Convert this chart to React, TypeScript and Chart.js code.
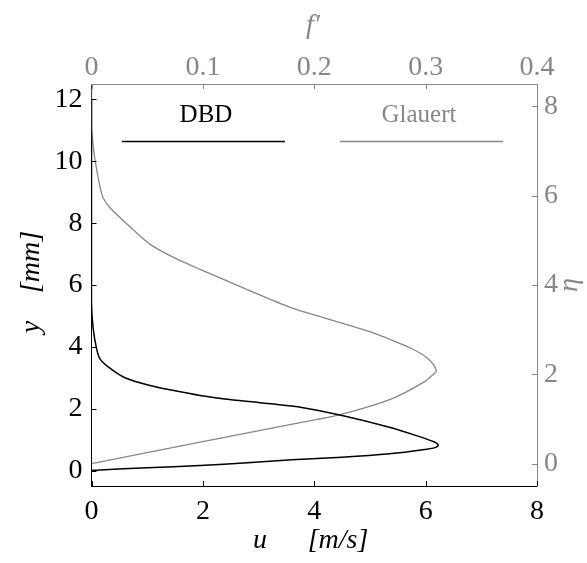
import React, { useEffect, useRef } from "react";
import { Chart, registerables } from "chart.js";

Chart.register(...registerables);

// ---- data ----
const U_TICKS = [0, 2, 4, 6, 8];
const Y_TICKS = [0, 2, 4, 6, 8, 10, 12];
const F_TICKS = [0, 0.1, 0.2, 0.3, 0.4];
const ETA_TICKS = [0, 2, 4, 6, 8];

// DBD measured profile: u [m/s] vs y [mm]
const DBD_U = [0, 0.15, 1.0, 1.95, 2.8, 3.6, 4.5, 5.35, 5.95, 6.18, 6.23, 6.15, 5.85, 5.35, 4.5, 3.75, 3.0, 2.55, 1.95, 1.5, 1.05, 0.6, 0.3, 0.15, 0.09, 0.03, 0, 0, 0];
const DBD_Y = [0, 0.02, 0.09, 0.16, 0.25, 0.35, 0.43, 0.54, 0.67, 0.75, 0.82, 0.93, 1.12, 1.4, 1.78, 2.05, 2.2, 2.28, 2.43, 2.58, 2.75, 3.0, 3.35, 3.62, 3.95, 4.6, 5.4, 8, 12];

// Glauert wall jet similarity profile: f' vs eta
const GLAUERT_F = [0, 0.0975, 0.1874, 0.2234, 0.2683, 0.298, 0.3088, 0.3097, 0.307, 0.2997, 0.2863, 0.2683, 0.253, 0.2324, 0.2081, 0.1784, 0.1425, 0.0975, 0.0751, 0.0526, 0.0373, 0.0166, 0.0103, 0.0076, 0.0031, 0.0009, 0, 0];
const GLAUERT_ETA = [0, 0.48, 0.92, 1.1, 1.44, 1.82, 2.04, 2.07, 2.22, 2.4, 2.59, 2.78, 2.93, 3.09, 3.27, 3.5, 3.87, 4.35, 4.6, 4.91, 5.24, 5.73, 5.96, 6.2, 6.81, 7.26, 7.57, 8.5];

const SERIES_LABELS = ["DBD", "Glauert"];

const BLACK = "#000000";
const GRAY = "#878787";
const FONT = "'Liberation Serif', 'Times New Roman', serif";

const inwardTicks = {
  id: "inwardTicks",
  afterDraw(chart: any) {
    const { ctx, chartArea: a } = chart;
    const L = 5;
    ctx.save();
    ctx.lineWidth = 1;
    const sx = chart.scales.x, sx2 = chart.scales.x2, sy = chart.scales.y, sy2 = chart.scales.y2;
    ctx.strokeStyle = BLACK;
    ctx.beginPath();
    sx.ticks.forEach((t: any) => {
      const p = Math.round(sx.getPixelForValue(t.value)) + 0.5;
      ctx.moveTo(p, a.bottom);
      ctx.lineTo(p, a.bottom - L);
    });
    sy.ticks.forEach((t: any) => {
      const p = Math.round(sy.getPixelForValue(t.value)) + 0.5;
      ctx.moveTo(a.left, p);
      ctx.lineTo(a.left + L, p);
    });
    ctx.stroke();
    ctx.strokeStyle = GRAY;
    ctx.beginPath();
    sx2.ticks.forEach((t: any) => {
      const p = Math.round(sx2.getPixelForValue(t.value)) + 0.5;
      ctx.moveTo(p, a.top);
      ctx.lineTo(p, a.top + L);
    });
    sy2.ticks.forEach((t: any) => {
      const p = Math.round(sy2.getPixelForValue(t.value)) + 0.5;
      ctx.moveTo(a.right, p);
      ctx.lineTo(a.right - L, p);
    });
    ctx.stroke();

    // legend
    ctx.textAlign = "center";
    ctx.textBaseline = "alphabetic";
    ctx.font = `25px ${FONT}`;
    ctx.fillStyle = BLACK;
    ctx.fillText(SERIES_LABELS[0], 206, 122);
    ctx.fillStyle = GRAY;
    ctx.fillText(SERIES_LABELS[1], 419, 122);
    ctx.lineWidth = 1.5;
    ctx.strokeStyle = BLACK;
    ctx.beginPath();
    ctx.moveTo(122, 141.5);
    ctx.lineTo(285, 141.5);
    ctx.stroke();
    ctx.lineWidth = 1.3;
    ctx.strokeStyle = GRAY;
    ctx.beginPath();
    ctx.moveTo(340, 141.5);
    ctx.lineTo(503, 141.5);
    ctx.stroke();

    // axis titles
    ctx.font = `italic 28px ${FONT}`;
    ctx.fillStyle = BLACK;
    ctx.textAlign = "center";
    ctx.fillText("u", 260, 548);
    ctx.fillText("[m/s]", 338, 548);

    ctx.fillStyle = GRAY;
    ctx.fillText("f\u2032", 313, 33);

    ctx.save();
    ctx.translate(39, 0);
    ctx.rotate(-Math.PI / 2);
    ctx.fillStyle = BLACK;
    ctx.fillText("y", -327, 0);
    ctx.fillText("[mm]", -262, 0);
    ctx.restore();

    ctx.save();
    ctx.translate(577, 285);
    ctx.rotate(-Math.PI / 2);
    ctx.fillStyle = GRAY;
    ctx.fillText("\u03b7", 0, 0);
    ctx.restore();

    ctx.restore();
  },
};

export default function App() {
  const ref = useRef<HTMLCanvasElement | null>(null);
  useEffect(() => {
    if (!ref.current) return;
    const tickFont = { family: FONT, size: 28 };
    const setTicks = (vals: number[]) => (s: any) => {
      s.ticks = vals.map((v) => ({ value: v }));
    };
    const chart = new Chart(ref.current, {
      type: "scatter",
      data: {
        datasets: [
          {
            label: SERIES_LABELS[0],
            data: DBD_U.map((u, i) => ({ x: u, y: DBD_Y[i] })),
            showLine: true,
            borderColor: BLACK,
            borderWidth: 1.5,
            pointRadius: 0,
            xAxisID: "x",
            yAxisID: "y",
            tension: 0.25,
          },
          {
            label: SERIES_LABELS[1],
            data: GLAUERT_F.map((f, i) => ({ x: f, y: GLAUERT_ETA[i] })),
            showLine: true,
            borderColor: GRAY,
            borderWidth: 1.3,
            pointRadius: 0,
            xAxisID: "x2",
            yAxisID: "y2",
            tension: 0.25,
          },
        ],
      },
      options: {
        responsive: false,
        animation: false,
        devicePixelRatio: 1,
        layout: { padding: 0 },
        plugins: { legend: { display: false }, tooltip: { enabled: false } },
        scales: {
          x: {
            type: "linear",
            position: "bottom",
            min: 0,
            max: 8,
            afterBuildTicks: setTicks(U_TICKS),
            afterFit: (s: any) => { s.height = 77; },
            ticks: { color: BLACK, font: tickFont, padding: 9, maxRotation: 0, callback: (v: any) => String(v) },
            grid: { display: true, drawOnChartArea: false, drawTicks: false },
            border: { display: true, color: BLACK, width: 1 },
          },
          y: {
            type: "linear",
            position: "left",
            min: -0.5,
            max: 12.5,
            afterBuildTicks: setTicks(Y_TICKS),
            afterFit: (s: any) => { s.width = 91.5; },
            ticks: { color: BLACK, font: tickFont, padding: 9, callback: (v: any) => String(v) },
            grid: { display: true, drawOnChartArea: false, drawTicks: false },
            border: { display: true, color: BLACK, width: 1 },
          },
          x2: {
            type: "linear",
            position: "top",
            min: 0,
            max: 0.4,
            afterBuildTicks: setTicks(F_TICKS),
            afterFit: (s: any) => { s.height = 84; },
            ticks: { color: GRAY, font: tickFont, padding: 0, maxRotation: 0, callback: (v: any) => String(v) },
            grid: { display: true, drawOnChartArea: false, drawTicks: false },
            border: { display: true, color: GRAY, width: 1 },
          },
          y2: {
            type: "linear",
            position: "right",
            min: -0.5,
            max: 8.5,
            afterBuildTicks: setTicks(ETA_TICKS),
            afterFit: (s: any) => { s.width = 50; },
            ticks: { color: GRAY, font: tickFont, padding: 7, callback: (v: any) => String(v) },
            grid: { display: true, drawOnChartArea: false, drawTicks: false },
            border: { display: true, color: GRAY, width: 1 },
          },
        },
      },
      plugins: [inwardTicks],
    } as any);
    return () => chart.destroy();
  }, []);
  return (
    <div style={{ position: "absolute", left: 0, top: 0, width: 587, height: 563, background: "#fff" }}>
      <canvas ref={ref} width={587} height={563} style={{ display: "block" }} />
    </div>
  );
}
